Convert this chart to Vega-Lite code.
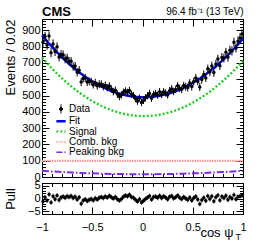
{
  "$schema": "https://vega.github.io/schema/vega-lite/v6.json",
  "autosize": {"type": "pad"},
  "padding": {"left": 3, "top": 5, "right": 0, "bottom": 0},
  "background": "white",
  "datasets": {
    "pts": [
      {"x":-0.99,"y":827,"e":29,"p":-1.2},{"x":-0.97,"y":862,"e":29,"p":0.5},{"x":-0.95,"y":810,"e":29,"p":-0.8},{"x":-0.93,"y":865,"e":29,"p":1.6},{"x":-0.91,"y":763,"e":28,"p":-1.5},
      {"x":-0.89,"y":817,"e":28,"p":0.9},{"x":-0.87,"y":770,"e":28,"p":-0.3},{"x":-0.85,"y":799,"e":28,"p":1.2},{"x":-0.83,"y":737,"e":27,"p":-0.6},{"x":-0.81,"y":752,"e":27,"p":0.4},
      {"x":-0.79,"y":750,"e":27,"p":0.8},{"x":-0.77,"y":725,"e":27,"p":0.3},{"x":-0.75,"y":730,"e":27,"p":0.9},{"x":-0.73,"y":710,"e":26,"p":0.6},{"x":-0.71,"y":710,"e":26,"p":1.0},
      {"x":-0.69,"y":678,"e":26,"p":0.2},{"x":-0.67,"y":681,"e":26,"p":0.7},{"x":-0.65,"y":643,"e":26,"p":-0.4},{"x":-0.63,"y":656,"e":25,"p":0.5},{"x":-0.61,"y":583,"e":25,"p":-2.0},
      {"x":-0.59,"y":605,"e":25,"p":-0.8},{"x":-0.57,"y":608,"e":25,"p":-0.3},{"x":-0.55,"y":583,"e":25,"p":-1.0},{"x":-0.53,"y":587,"e":24,"p":-0.5},{"x":-0.51,"y":586,"e":24,"p":-0.2},
      {"x":-0.49,"y":567,"e":24,"p":-0.7},{"x":-0.47,"y":579,"e":24,"p":0.1},{"x":-0.45,"y":560,"e":24,"p":-0.4},{"x":-0.43,"y":570,"e":24,"p":0.3},{"x":-0.41,"y":570,"e":24,"p":0.6},
      {"x":-0.39,"y":555,"e":23,"p":0.2},{"x":-0.37,"y":563,"e":23,"p":0.8},{"x":-0.35,"y":548,"e":23,"p":0.4},{"x":-0.33,"y":559,"e":23,"p":1.1},{"x":-0.31,"y":540,"e":23,"p":0.5},
      {"x":-0.29,"y":524,"e":23,"p":0.0},{"x":-0.27,"y":533,"e":23,"p":0.6},{"x":-0.25,"y":509,"e":23,"p":-0.3},{"x":-0.23,"y":494,"e":23,"p":-0.8},{"x":-0.21,"y":504,"e":23,"p":-0.2},
      {"x":-0.19,"y":521,"e":22,"p":0.7},{"x":-0.17,"y":529,"e":22,"p":1.2},{"x":-0.15,"y":520,"e":22,"p":0.9},{"x":-0.13,"y":531,"e":22,"p":1.5},{"x":-0.11,"y":509,"e":22,"p":0.6},
      {"x":-0.09,"y":501,"e":22,"p":0.3},{"x":-0.07,"y":481,"e":22,"p":-0.5},{"x":-0.05,"y":465,"e":22,"p":-1.2},{"x":-0.03,"y":484,"e":22,"p":-0.3},{"x":-0.01,"y":457,"e":22,"p":-1.5},
      {"x":0.01,"y":470,"e":22,"p":-0.9},{"x":0.03,"y":486,"e":22,"p":-0.2},{"x":0.05,"y":499,"e":22,"p":0.4},{"x":0.07,"y":513,"e":22,"p":1.0},{"x":0.09,"y":483,"e":22,"p":-0.4},
      {"x":0.11,"y":507,"e":22,"p":0.6},{"x":0.13,"y":513,"e":22,"p":0.8},{"x":0.15,"y":503,"e":22,"p":0.3},{"x":0.17,"y":524,"e":22,"p":1.1},{"x":0.19,"y":506,"e":22,"p":0.2},
      {"x":0.21,"y":524,"e":22,"p":0.9},{"x":0.23,"y":516,"e":23,"p":0.4},{"x":0.25,"y":504,"e":23,"p":-0.3},{"x":0.27,"y":530,"e":23,"p":0.7},{"x":0.29,"y":541,"e":23,"p":1.0},
      {"x":0.31,"y":525,"e":23,"p":0.1},{"x":0.33,"y":538,"e":23,"p":0.5},{"x":0.35,"y":560,"e":23,"p":1.2},{"x":0.37,"y":544,"e":23,"p":0.3},{"x":0.39,"y":538,"e":23,"p":-0.2},
      {"x":0.41,"y":562,"e":23,"p":0.6},{"x":0.43,"y":554,"e":24,"p":0.0},{"x":0.45,"y":549,"e":24,"p":-0.5},{"x":0.47,"y":577,"e":24,"p":0.4},{"x":0.49,"y":555,"e":24,"p":-0.8},
      {"x":0.51,"y":586,"e":24,"p":0.2},{"x":0.53,"y":608,"e":24,"p":0.8},{"x":0.55,"y":587,"e":24,"p":-0.4},{"x":0.57,"y":553,"e":25,"p":-2.1},{"x":0.59,"y":598,"e":25,"p":-0.6},
      {"x":0.61,"y":629,"e":25,"p":0.3},{"x":0.63,"y":608,"e":25,"p":-0.9},{"x":0.65,"y":665,"e":25,"p":1.0},{"x":0.67,"y":644,"e":25,"p":-0.2},{"x":0.69,"y":682,"e":26,"p":0.9},
      {"x":0.71,"y":641,"e":26,"p":-1.1},{"x":0.73,"y":693,"e":26,"p":0.5},{"x":0.75,"y":725,"e":26,"p":1.3},{"x":0.77,"y":683,"e":26,"p":-0.7},{"x":0.79,"y":734,"e":27,"p":0.8},
      {"x":0.81,"y":730,"e":27,"p":0.2},{"x":0.83,"y":766,"e":27,"p":1.1},{"x":0.85,"y":735,"e":27,"p":-0.5},{"x":0.87,"y":778,"e":28,"p":0.6},{"x":0.89,"y":774,"e":28,"p":0.0},
      {"x":0.91,"y":827,"e":28,"p":1.4},{"x":0.93,"y":792,"e":28,"p":-0.3},{"x":0.95,"y":834,"e":29,"p":0.7},{"x":0.97,"y":854,"e":29,"p":0.9},{"x":0.99,"y":878,"e":29,"p":1.2}
    ],
    "curves": [
      {"x":-1,"Fit":870,"Signal":733,"Comb":99,"Peak":38},
      {"x":-0.9,"Fit":798.7,"Signal":665.7,"Comb":99,"Peak":34},
      {"x":-0.8,"Fit":734.8,"Signal":605.4,"Comb":99,"Peak":30.4},
      {"x":-0.7,"Fit":678.3,"Signal":552,"Comb":99,"Peak":27.3},
      {"x":-0.6,"Fit":629.2,"Signal":505.6,"Comb":99,"Peak":24.6},
      {"x":-0.5,"Fit":587.5,"Signal":466.3,"Comb":99,"Peak":22.3},
      {"x":-0.4,"Fit":553.2,"Signal":433.8,"Comb":99,"Peak":20.4},
      {"x":-0.3,"Fit":526.3,"Signal":408.4,"Comb":99,"Peak":18.9},
      {"x":-0.2,"Fit":506.8,"Signal":390,"Comb":99,"Peak":17.8},
      {"x":-0.1,"Fit":494.7,"Signal":378.5,"Comb":99,"Peak":17.2},
      {"x":0,"Fit":490,"Signal":374,"Comb":99,"Peak":17},
      {"x":0.1,"Fit":492.7,"Signal":376.5,"Comb":99,"Peak":17.2},
      {"x":0.2,"Fit":502.8,"Signal":386,"Comb":99,"Peak":17.8},
      {"x":0.3,"Fit":520.3,"Signal":402.4,"Comb":99,"Peak":18.9},
      {"x":0.4,"Fit":545.2,"Signal":425.8,"Comb":99,"Peak":20.4},
      {"x":0.5,"Fit":577.5,"Signal":456.3,"Comb":99,"Peak":22.3},
      {"x":0.6,"Fit":617.2,"Signal":493.6,"Comb":99,"Peak":24.6},
      {"x":0.7,"Fit":664.3,"Signal":538,"Comb":99,"Peak":27.3},
      {"x":0.8,"Fit":718.8,"Signal":589.4,"Comb":99,"Peak":30.4},
      {"x":0.9,"Fit":780.7,"Signal":647.7,"Comb":99,"Peak":34},
      {"x":1,"Fit":850,"Signal":713,"Comb":99,"Peak":38}
    ]
  },
  "vconcat": [
    {
      "width": 201,
      "height": 158,
      "title": {"text": "CMS", "anchor": "start", "frame": "group", "fontSize": 13, "fontWeight": "bold", "offset": -12, "color": "black"},
      "layer": [
        {
          "data": {"name": "curves"},
          "transform": [{"fold": ["Peak", "Comb", "Signal", "Fit"], "as": ["c", "v"]}],
          "mark": {"type": "line", "interpolate": "monotone"},
          "encoding": {
            "x": {"field": "x", "type": "quantitative", "scale": {"domain": [-1, 1], "nice": false, "zero": false},
              "axis": {"orient": "bottom", "values": [-1,-0.9,-0.8,-0.7,-0.6,-0.5,-0.4,-0.3,-0.2,-0.1,0,0.1,0.2,0.3,0.4,0.5,0.6,0.7,0.8,0.9,1], "labels": false, "title": null,
                "tickSize": {"condition": {"test": "abs(datum.value*2 - round(datum.value*2)) < 0.001", "value": -7}, "value": -3.5}}},
            "y": {"field": "v", "type": "quantitative", "scale": {"domain": [0, 970], "nice": false, "zero": true},
              "axis": {"orient": "left", "values": [0,20,40,60,80,100,120,140,160,180,200,220,240,260,280,300,320,340,360,380,400,420,440,460,480,500,520,540,560,580,600,620,640,660,680,700,720,740,760,780,800,820,840,860,880,900,920,940,960],
                "labelExpr": "datum.value % 100 === 0 ? datum.label : ''", "format": "d", "labelOverlap": false,
                "tickSize": {"condition": {"test": "datum.value % 100 === 0", "value": -7}, "value": -3.5},
                "labelPadding": 9, "title": "Events / 0.02", "titleAnchor": "end", "titleX": -25}},
            "color": {"field": "c", "type": "nominal",
              "scale": {"domain": ["Data", "Fit", "Signal", "Comb", "Peak"], "range": ["black", "#0000ff", "#22cc22", "#ff9999", "#7b2be0"]},
              "legend": {
                "orient": "none", "legendX": 14, "legendY": 85, "title": null,
                "labelExpr": "datum.label === 'Comb' ? 'Comb. bkg' : datum.label === 'Peak' ? 'Peaking bkg' : datum.label",
                "labelFontSize": 10, "labelColor": "black", "labelOffset": 3, "rowPadding": 0.3, "padding": 0,
                "symbolType": "stroke", "symbolSize": 85, "symbolStrokeWidth": 2,
                "encode": {"symbols": {"update": {
                  "shape": {"signal": "datum.value === 'Data' ? 'M0,-1L0,1M-0.35,0A0.35,0.35 0 1 1 0.35,0A0.35,0.35 0 1 1 -0.35,0' : 'stroke'"},
                  "fill": {"signal": "datum.value === 'Data' ? 'black' : 'transparent'"},
                  "strokeDash": {"signal": "datum.value === 'Signal' ? [2,2] : datum.value === 'Comb' ? [1.5,1] : datum.value === 'Peak' ? [6,2,1.5,2] : [1,0]"},
                  "strokeWidth": {"signal": "datum.value === 'Fit' ? 2.5 : datum.value === 'Data' ? 1 : datum.value === 'Signal' ? 2 : 1.5"}
                }}}
              }},
            "strokeDash": {"field": "c", "type": "nominal", "scale": {"domain": ["Fit", "Signal", "Comb", "Peak"], "range": [[1, 0], [2, 2], [1.5, 1], [7, 2, 1.5, 2]]}, "legend": null},
            "strokeWidth": {"field": "c", "type": "ordinal", "scale": {"domain": ["Fit", "Signal", "Comb", "Peak"], "range": [2.5, 2, 1.5, 1.5]}, "legend": null}
          }
        },
        {
          "data": {"name": "pts"},
          "mark": {"type": "errorbar", "color": "black", "thickness": 1},
          "encoding": {
            "x": {"field": "x", "type": "quantitative", "axis": null},
            "y": {"field": "y", "type": "quantitative", "axis": null},
            "yError": {"field": "e"}
          }
        },
        {
          "data": {"name": "pts"},
          "mark": {"type": "point", "filled": true, "size": 12, "opacity": 1},
          "encoding": {
            "x": {"field": "x", "type": "quantitative",
              "axis": {"orient": "top", "values": [-1,-0.9,-0.8,-0.7,-0.6,-0.5,-0.4,-0.3,-0.2,-0.1,0,0.1,0.2,0.3,0.4,0.5,0.6,0.7,0.8,0.9,1], "labels": false,
                "tickSize": {"condition": {"test": "abs(datum.value*2 - round(datum.value*2)) < 0.001", "value": -7}, "value": -3.5},
                "title": "96.4 fb⁻¹ (13 TeV)", "titleAnchor": "end", "titleFontSize": 10, "titlePadding": 2}},
            "y": {"field": "y", "type": "quantitative",
              "axis": {"orient": "right", "values": [0,20,40,60,80,100,120,140,160,180,200,220,240,260,280,300,320,340,360,380,400,420,440,460,480,500,520,540,560,580,600,620,640,660,680,700,720,740,760,780,800,820,840,860,880,900,920,940,960],
                "labels": false, "title": null,
                "tickSize": {"condition": {"test": "datum.value % 100 === 0", "value": -7}, "value": -3.5}}},
            "color": {"datum": "Data", "type": "nominal"}
          }
        }
      ],
      "resolve": {"axis": {"x": "independent", "y": "independent"}}
    },
    {
      "width": 201,
      "height": 31,
      "title": {"text": "T", "orient": "bottom", "anchor": "end", "frame": "group", "fontSize": 9, "fontWeight": "normal", "offset": -7, "dx": -2, "color": "black"},
      "data": {"name": "pts"},
      "layer": [
        {
          "mark": {"type": "tick", "orient": "vertical", "size": 5, "thickness": 1, "color": "black"},
          "encoding": {
            "x": {"field": "x", "type": "quantitative", "scale": {"domain": [-1, 1], "nice": false, "zero": false},
              "axis": {"orient": "bottom", "values": [-1,-0.9,-0.8,-0.7,-0.6,-0.5,-0.4,-0.3,-0.2,-0.1,0,0.1,0.2,0.3,0.4,0.5,0.6,0.7,0.8,0.9,1],
                "labelExpr": "abs(datum.value*2 - round(datum.value*2)) < 0.001 ? datum.label : ''", "format": ".1~f", "labelOverlap": false, "labelFlush": false,
                "tickSize": {"condition": {"test": "abs(datum.value*2 - round(datum.value*2)) < 0.001", "value": -7}, "value": -3.5},
                "labelPadding": 14, "title": "cos ψ", "titleAnchor": "end", "titleAlign": "right", "titleX": 191, "titlePadding": -9}},
            "y": {"field": "p", "type": "quantitative", "scale": {"domain": [-6, 6], "nice": false},
              "axis": {"orient": "left", "values": [-6,-5,-4,-3,-2,-1,0,1,2,3,4,5,6],
                "labelExpr": "datum.value % 5 === 0 ? datum.label : ''", "format": "d", "labelOverlap": false,
                "tickSize": {"condition": {"test": "datum.value % 5 === 0", "value": -7}, "value": -3.5},
                "labelPadding": 9, "title": "Pull", "titleX": -25}}
          }
        },
        {
          "mark": {"type": "point", "filled": true, "size": 12, "opacity": 1, "color": "black"},
          "encoding": {
            "x": {"field": "x", "type": "quantitative",
              "axis": {"orient": "top", "values": [-1,-0.9,-0.8,-0.7,-0.6,-0.5,-0.4,-0.3,-0.2,-0.1,0,0.1,0.2,0.3,0.4,0.5,0.6,0.7,0.8,0.9,1], "labels": false, "title": null,
                "tickSize": {"condition": {"test": "abs(datum.value*2 - round(datum.value*2)) < 0.001", "value": -7}, "value": -3.5}}},
            "y": {"field": "p", "type": "quantitative",
              "axis": {"orient": "right", "values": [-6,-5,-4,-3,-2,-1,0,1,2,3,4,5,6], "labels": false, "title": null,
                "tickSize": {"condition": {"test": "datum.value % 5 === 0", "value": -7}, "value": -3.5}}}
          }
        }
      ],
      "resolve": {"axis": {"x": "independent", "y": "independent"}}
    }
  ],
  "spacing": 6,
  "bounds": "flush",
  "config": {
    "font": "Liberation Sans",
    "view": {"stroke": "black", "strokeWidth": 1},
    "axis": {"domainColor": "black", "tickColor": "black", "labelColor": "black", "titleColor": "black", "labelFontSize": 11, "titleFontSize": 13, "titleFontWeight": "normal", "grid": false, "labelFont": "Liberation Sans", "titleFont": "Liberation Sans", "domainWidth": 1, "tickWidth": 1},
    "title": {"font": "Liberation Sans", "color": "black"}
  }
}
